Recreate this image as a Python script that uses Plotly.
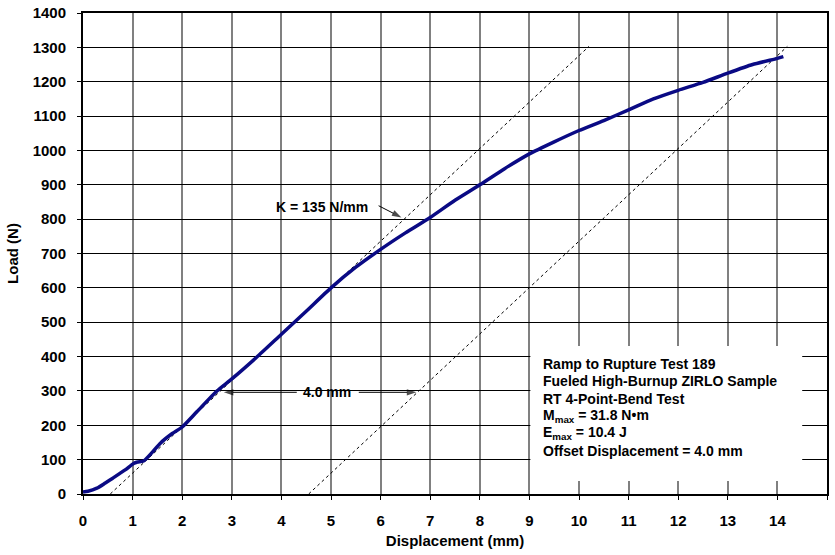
import plotly.graph_objects as go

# Load-displacement record, ramp to rupture
displacement_mm = [0.0, 0.1, 0.28, 0.45, 0.6, 0.85, 1.02, 1.1, 1.22, 1.4, 1.56, 1.8, 2.0,
                   2.3, 2.7, 3.0, 3.5, 4.0, 4.5, 5.0, 5.5, 6.0, 6.5, 7.0, 7.5, 8.0, 8.5,
                   9.0, 9.5, 10.0, 10.5, 11.0, 11.5, 12.0, 12.5, 13.0, 13.5, 14.0, 14.12]
load_n = [6, 8, 17, 32, 46, 70, 89, 93, 96, 122, 148, 176, 195,
          240, 300, 335, 398, 465, 532, 600, 660, 712, 760, 805, 855, 900, 947,
          990, 1025, 1058, 1087, 1118, 1150, 1175, 1198, 1225, 1250, 1268, 1273]

# Elastic stiffness line and its 4.0 mm offset
stiffness_n_per_mm = 135
stiffness_x0 = 0.55
offset_mm = 4.0
line_x_end = 10.2

x_ticks = list(range(0, 16))
y_ticks = list(range(0, 1401, 100))

info_lines = [
    "Ramp to Rupture Test 189",
    "Fueled High-Burnup ZIRLO Sample",
    "RT 4-Point-Bend Test",
    "M<sub>max</sub> = 31.8 N\u2022m",
    "E<sub>max</sub> = 10.4 J",
    "Offset Displacement = 4.0 mm",
]

FONT = "Liberation Sans, Arial, sans-serif"
bold = dict(family=FONT, size=14, color="black", weight="bold")
bold15 = dict(family=FONT, size=15, color="black", weight="bold")

fig = go.Figure()

k_x = [stiffness_x0, line_x_end]
k_y = [(x - stiffness_x0) * stiffness_n_per_mm for x in k_x]
off_x = [x + offset_mm for x in k_x]
for xs in (k_x, off_x):
    fig.add_trace(go.Scatter(x=xs, y=k_y, mode="lines",
                             line=dict(color="black", width=1, dash="3px,3px"),
                             hoverinfo="skip", showlegend=False))

fig.add_trace(go.Scatter(x=displacement_mm, y=load_n, mode="lines",
                         line=dict(color="#0a0a84", width=3.5, shape="spline",
                                   smoothing=0.6),
                         showlegend=False))


def pointer(tail, head):
    """Thin black line from tail to head, finished with an arrowhead."""
    fig.add_trace(go.Scatter(
        x=[tail[0], head[0]], y=[tail[1], head[1]], mode="lines+markers",
        line=dict(color="black", width=1),
        marker=dict(symbol="arrow", size=[0, 10], angleref="previous",
                    color="black", line=dict(width=0)),
        hoverinfo="skip", showlegend=False))


# white panel behind the test description
fig.add_shape(type="rect", xref="x", yref="y", x0=9.02, x1=14.5, y0=38, y1=431,
              fillcolor="white", line=dict(width=0), layer="between")

for i, txt in enumerate(info_lines):
    fig.add_annotation(x=9.23, y=378, xref="x", yref="y", text=txt, showarrow=False,
                       xanchor="left", yanchor="middle", yshift=-17.3 * i,
                       font=bold, align="left")

# stiffness label and pointer
fig.add_annotation(x=4.82, y=834, text="K = 135 N/mm", showarrow=False, font=bold)
pointer((5.96, 839), (6.42, 805))

# offset dimension arrow
arrow_y = 296
pointer((4.31, arrow_y), (2.84, arrow_y))
pointer((5.56, arrow_y), (6.72, arrow_y))
fig.add_annotation(x=4.92, y=arrow_y, text="4.0 mm", showarrow=False, font=bold)

fig.update_layout(
    width=835, height=555,
    margin=dict(l=83, r=8, t=13, b=61),
    paper_bgcolor="white", plot_bgcolor="white",
    font=bold,
)
fig.update_xaxes(
    range=[0, 15], tickvals=x_ticks, ticktext=[str(v) for v in x_ticks],
    showgrid=True, gridcolor="#808080", gridwidth=1.5,
    showline=True, linecolor="black", linewidth=2, mirror=True,
    ticks="outside", ticklen=4, tickcolor="black", ticklabelstandoff=8,
    zeroline=False, tickfont=bold15, automargin=False,
    title=dict(text="Displacement (mm)", font=bold15, standoff=7),
)
fig.update_yaxes(
    range=[0, 1400], tickvals=y_ticks, ticktext=[str(v) for v in y_ticks],
    showgrid=True, gridcolor="black", gridwidth=1,
    showline=True, linecolor="black", linewidth=2, mirror=True,
    ticks="outside", ticklen=4, tickcolor="black", ticklabelstandoff=8,
    zeroline=False, tickfont=bold15, automargin=False,
    title=dict(text="Load (N)", font=bold15, standoff=10),
)

fig.write_html("out.html")
